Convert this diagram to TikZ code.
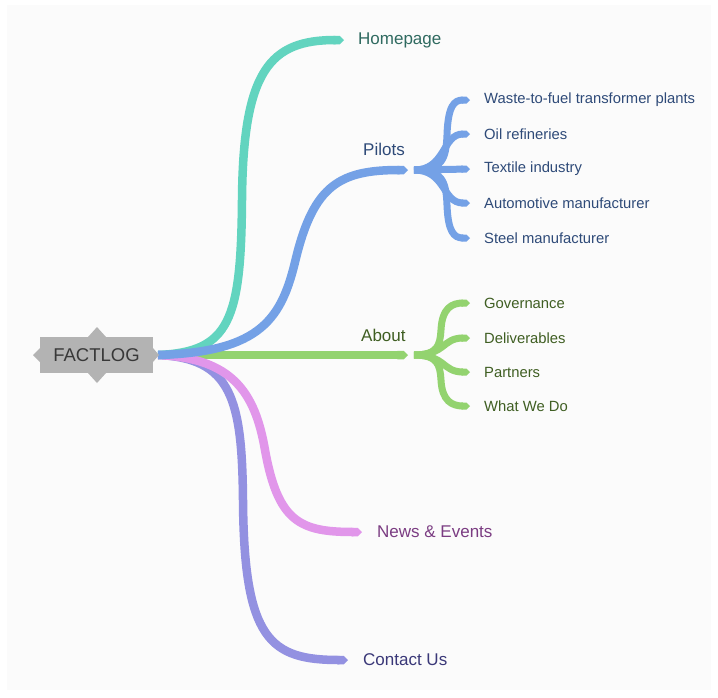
\documentclass[tikz,border=0pt]{standalone}
\usepackage{fontspec}
\setmainfont{Liberation Sans}
\usetikzlibrary{arrows.meta}
\definecolor{cteal}{HTML}{62D4BF}
\definecolor{cblue}{HTML}{74A1E6}
\definecolor{cgreen}{HTML}{93D36F}
\definecolor{cpink}{HTML}{E196EA}
\definecolor{cpurple}{HTML}{9391E1}
\definecolor{tteal}{HTML}{2F6A60}
\definecolor{tblue}{HTML}{2E4A78}
\definecolor{tgreen}{HTML}{3F5E22}
\definecolor{tpink}{HTML}{7B3C82}
\definecolor{tpurple}{HTML}{3A3878}
\definecolor{boxgray}{HTML}{B3B3B3}
\definecolor{bg}{HTML}{FBFBFB}
\tikzset{
  mainbranch/.style={line width=8.5pt, -{Triangle Cap[cap angle=90]}},
  childbranch/.style={line width=7pt, -{Triangle Cap[cap angle=90]}},
  mainlabel/.style={anchor=west, font=\fontsize{17}{20}\selectfont, inner sep=0pt},
  childlabel/.style={anchor=west, font=\fontsize{14.8}{18}\selectfont, inner sep=0pt},
}
\begin{document}
\begin{tikzpicture}[x=1pt,y=-1pt]
\useasboundingbox (0,0) rectangle (718,697);
\fill[bg] (7,5) rectangle (711,690);

% coordinates
\coordinate (root) at (158,355);
\coordinate (hpE) at (344,40);
\coordinate (piE) at (408,170);
\coordinate (abE) at (408,355);
\coordinate (neE) at (362,532);
\coordinate (coE) at (348,660);
\coordinate (piF) at (414,170);
\coordinate (abF) at (414,355);

% main branches
\draw[cgreen, mainbranch] (root) -- (abE);
\draw[cpurple, mainbranch] (root) .. controls (232,358) and (242,400) .. (243,500) .. controls (244,640) and (270,660) .. (coE);
\draw[cpink, mainbranch] (root) .. controls (232,358) and (255,392) .. (265,450) .. controls (278,522) and (300,532) .. (neE);
\draw[cteal, mainbranch] (root) .. controls (230,352) and (241,320) .. (242,200) .. controls (243,70) and (270,40) .. (hpE);
\draw[cblue, mainbranch] (root) .. controls (262,352) and (282,318) .. (296,258) .. controls (314,185) and (340,170) .. (piE);

% Pilots children
\coordinate (p1) at (470,100);
\coordinate (p2) at (470,134);
\coordinate (p3) at (470,169);
\coordinate (p4) at (470,203);
\coordinate (p5) at (470,238);
\draw[cblue, childbranch] (piF) .. controls (442,170) and (446,160) .. (447,135) .. controls (448,106) and (454,100) .. (p1);
\draw[cblue, childbranch] (piF) .. controls (446,170) and (442,134) .. (p2);
\draw[cblue, childbranch] (piF) -- (p3);
\draw[cblue, childbranch] (piF) .. controls (446,170) and (442,203) .. (p4);
\draw[cblue, childbranch] (piF) .. controls (442,170) and (446,180) .. (447,205) .. controls (448,232) and (454,238) .. (p5);

% About children
\coordinate (a1) at (470,303);
\coordinate (a2) at (470,338);
\coordinate (a3) at (470,372);
\coordinate (a4) at (470,406);
\draw[cgreen, childbranch] (abF) .. controls (438,355) and (440,345) .. (441,330) .. controls (442,308) and (452,303) .. (a1);
\draw[cgreen, childbranch] (abF) .. controls (446,355) and (442,338) .. (a2);
\draw[cgreen, childbranch] (abF) .. controls (446,355) and (442,372) .. (a3);
\draw[cgreen, childbranch] (abF) .. controls (438,355) and (440,365) .. (441,380) .. controls (442,401) and (452,406) .. (a4);

% central node
\fill[boxgray] (40,337) rectangle (153,373);
\fill[boxgray] (88,337) -- (97,327) -- (106,337) -- cycle;
\fill[boxgray] (88,373) -- (97,383) -- (106,373) -- cycle;
\fill[boxgray] (40,348) -- (33,355) -- (40,362) -- cycle;
\fill[boxgray] (153,348) -- (159,355) -- (153,362) -- cycle;
\node[font=\fontsize{18.5}{22}\selectfont, text=black!78, inner sep=0pt] (factlog) at (96.5,355) {FACTLOG};

% labels
\node[mainlabel, text=tteal] (hp) at (358,40) {Homepage};
\node[mainlabel, text=tblue] (pi) at (363,149) {Pilots};
\node[mainlabel, text=tgreen] (ab) at (361,335) {About};
\node[mainlabel, text=tpink] (ne) at (377,532) {News \& Events};
\node[mainlabel, text=tpurple] (co) at (363,660) {Contact Us};

\node[childlabel, text=tblue] (c1) at (484,100) {Waste-to-fuel transformer plants};
\node[childlabel, text=tblue] (c2) at (484,134) {Oil refineries};
\node[childlabel, text=tblue] (c3) at (484,169) {Textile industry};
\node[childlabel, text=tblue] (c4) at (484,203) {Automotive manufacturer};
\node[childlabel, text=tblue] (c5) at (484,238) {Steel manufacturer};

\node[childlabel, text=tgreen] (g1) at (484,303) {Governance};
\node[childlabel, text=tgreen] (g2) at (484,338) {Deliverables};
\node[childlabel, text=tgreen] (g3) at (484,372) {Partners};
\node[childlabel, text=tgreen] (g4) at (484,406) {What We Do};
\end{tikzpicture}
\end{document}
